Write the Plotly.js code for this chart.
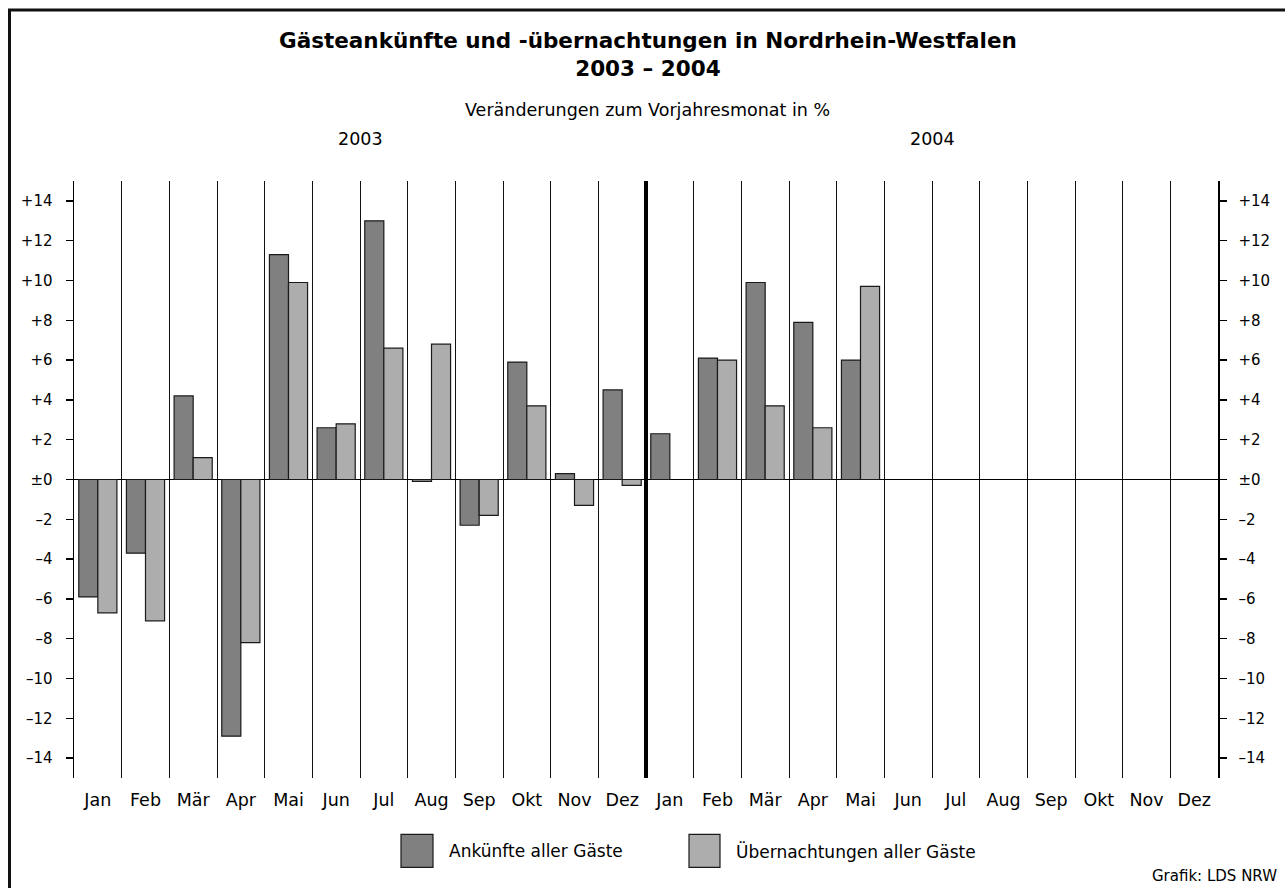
<!DOCTYPE html>
<html>
<head>
<meta charset="utf-8">
<script src="https://cdn.plot.ly/plotly-3.0.1.min.js"></script>
<style>
html,body{margin:0;padding:0;background:#fff;}
#chart{width:1285px;height:888px;}
</style>
</head>
<body>
<div id="chart"></div>
<script>
// ---- data ----
const monthLabels = ["Jan","Feb","Mär","Apr","Mai","Jun","Jul","Aug","Sep","Okt","Nov","Dez",
                     "Jan","Feb","Mär","Apr","Mai","Jun","Jul","Aug","Sep","Okt","Nov","Dez"];
const yearLabels = ["2003","2004"];
const seriesNames = ["Ankünfte aller Gäste","Übernachtungen aller Gäste"];
const ankuenfte = [-5.9,-3.7,4.2,-12.9,11.3,2.6,13.0,-0.1,-2.3,5.9,0.3,4.5,
                   2.3,6.1,9.9,7.9,6.0,null,null,null,null,null,null,null];
const uebernachtungen = [-6.7,-7.1,1.1,-8.2,9.9,2.8,6.6,6.8,-1.8,3.7,-1.3,-0.3,
                   null,6.0,3.7,2.6,9.7,null,null,null,null,null,null,null];
const yTickVals = [14,12,10,8,6,4,2,0,-2,-4,-6,-8,-10,-12,-14];
const yTickText = ["+14","+12","+10","+8","+6","+4","+2","±0","–2","–4","–6","–8","–10","–12","–14"];
const titleLines = ["Gästeankünfte und -übernachtungen in Nordrhein-Westfalen","2003 – 2004"];
const subtitle = "Veränderungen zum Vorjahresmonat in %";
const sourceText = "Grafik: LDS NRW";
const colors = ["#808080","#adadad"];

// ---- build ----
const FONT = "DejaVu Sans, Verdana, sans-serif";
const xIdx = monthLabels.map((m,i)=>i);
const boundaries = monthLabels.slice(1).map((m,i)=>i+0.5);

const traces = [
  {type:"bar", name:seriesNames[0], x:xIdx, y:ankuenfte,
   marker:{color:colors[0], line:{color:"#1a1a1a", width:1.2}}, showlegend:false, hoverinfo:"y"},
  {type:"bar", name:seriesNames[1], x:xIdx, y:uebernachtungen,
   marker:{color:colors[1], line:{color:"#1a1a1a", width:1.2}}, showlegend:false, hoverinfo:"y"},
  // carrier so the right-hand value axis is drawn (draws nothing)
  {type:"scatter", mode:"none", x:xIdx, y:ankuenfte, yaxis:"y2", showlegend:false, hoverinfo:"skip"}
];

const L=74, R=1218, T=181, B=777.6, W=1285, H=888;
const px = v => (v-L)/(R-L);
const py = v => (B-v)/(B-T);

const yax = {
  range:[-15,15], tickmode:"array", tickvals:yTickVals, ticktext:yTickText,
  ticks:"outside", ticklen:7, tickwidth:1.5, tickcolor:"#000",
  showline:true, linecolor:"#000", linewidth:1.5, showgrid:false,
  zeroline:true, zerolinecolor:"#000", zerolinewidth:1.3,
  tickfont:{family:FONT, size:15, color:"#000"}, fixedrange:true
};

const TXT = 17.5;
const LEG = 17;
const shapes = [
  // outer frame (left + top)
  {type:"line", xref:"paper", yref:"paper", x0:px(9.5), x1:px(9.5), y0:py(895), y1:py(10), line:{color:"#111", width:3}},
  {type:"line", xref:"paper", yref:"paper", x0:px(8), x1:px(1290), y0:py(10), y1:py(10), line:{color:"#111", width:3}},
  // year divider
  {type:"line", xref:"x", yref:"paper", x0:11.5, x1:11.5, y0:0, y1:1, line:{color:"#000", width:4}},
  // legend boxes
  {type:"rect", xref:"paper", yref:"paper", x0:px(401), x1:px(433), y0:py(867), y1:py(834), fillcolor:colors[0], line:{color:"#1a1a1a", width:1.2}},
  {type:"rect", xref:"paper", yref:"paper", x0:px(689), x1:px(720), y0:py(867), y1:py(834), fillcolor:colors[1], line:{color:"#1a1a1a", width:1.2}}
];

const annotations = [
  {text:"<b>"+titleLines[0]+"</b><br><b>"+titleLines[1]+"</b>", xref:"paper", yref:"paper", x:px(648), y:py(54.5), showarrow:false, font:{family:FONT, size:21.5, color:"#000"}, xanchor:"center", yanchor:"middle"},
  {text:subtitle, xref:"paper", yref:"paper", x:px(647), y:py(110), showarrow:false, font:{family:FONT, size:TXT, color:"#000"}, xanchor:"center", yanchor:"middle"},
  {text:yearLabels[0], xref:"x", yref:"paper", x:5.5, y:py(139), showarrow:false, font:{family:FONT, size:TXT, color:"#000"}, xanchor:"center", yanchor:"middle"},
  {text:yearLabels[1], xref:"x", yref:"paper", x:17.5, y:py(139), showarrow:false, font:{family:FONT, size:TXT, color:"#000"}, xanchor:"center", yanchor:"middle"},
  {text:seriesNames[0], xref:"paper", yref:"paper", x:px(447), y:py(851), showarrow:false, font:{family:FONT, size:LEG, color:"#000"}, xanchor:"left", yanchor:"middle"},
  {text:seriesNames[1], xref:"paper", yref:"paper", x:px(734), y:py(851), showarrow:false, font:{family:FONT, size:LEG, color:"#000"}, xanchor:"left", yanchor:"middle"},
  {text:sourceText, xref:"paper", yref:"paper", x:px(1279), y:py(876), showarrow:false, font:{family:FONT, size:15, color:"#000"}, xanchor:"right", yanchor:"middle"}
];

const layout = {
  width:W, height:H,
  margin:{l:L, r:W-R, t:T, b:H-B, pad:0},
  paper_bgcolor:"#fff", plot_bgcolor:"#fff",
  font:{family:FONT, size:16, color:"#000"},
  barmode:"group", bargap:0.2, bargroupgap:0,
  showlegend:false,
  xaxis:{
    range:[-0.5,23.5], tickmode:"array", tickvals:xIdx, ticktext:monthLabels,
    ticks:"", showline:false, showgrid:false, zeroline:false,
    tickfont:{family:FONT, size:TXT, color:"#000"}, ticklabelstandoff:9, fixedrange:true,
    minor:{tickmode:"array", tickvals:boundaries, showgrid:true, gridcolor:"#111", gridwidth:1, ticks:""}
  },
  yaxis:Object.assign({}, yax, {side:"left", ticklabelstandoff:10}),
  yaxis2:Object.assign({}, yax, {side:"right", overlaying:"y", zeroline:false, ticklabelstandoff:9}),
  shapes:shapes,
  annotations:annotations
};

Plotly.newPlot("chart", traces, layout, {displayModeBar:false, staticPlot:true});
</script>
</body>
</html>
